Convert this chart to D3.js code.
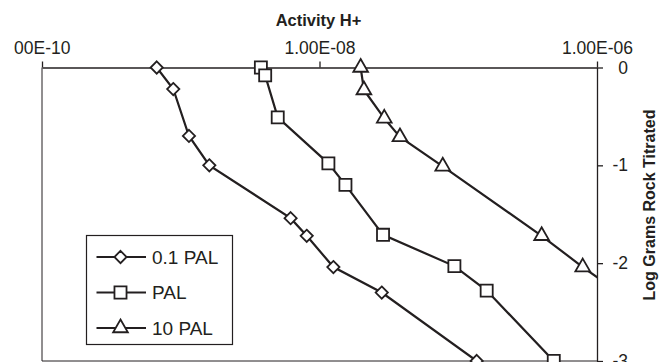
<!DOCTYPE html>
<html>
<head>
<meta charset="utf-8">
<script src="https://cdn.jsdelivr.net/npm/d3@7"></script>
<style>
  body { margin: 0; background: #fff; }
  svg { display: block; font-family: "Liberation Sans", Arial, sans-serif; }
</style>
</head>
<body>
<div id="chart"></div>
<script>
"use strict";
// data (activity of H+ vs log grams rock titrated)
var seriesNames = ["0.1 PAL", "PAL", "10 PAL"];
var activityLow = [6.71e-10, 8.83e-10, 1.146e-9, 1.607e-9, 6.19e-9, 8.09e-9, 1.259e-8, 2.81e-8, 1.358e-7];
var rockLow = [0, -0.22, -0.70, -1.00, -1.54, -1.72, -2.04, -2.30, -3.00];
var activityMid = [3.78e-9, 4.06e-9, 5.00e-9, 1.159e-8, 1.538e-8, 2.87e-8, 9.38e-8, 1.603e-7, 4.88e-7];
var rockMid = [0, -0.08, -0.51, -0.98, -1.20, -1.71, -2.03, -2.28, -3.00];
var activityHigh = [1.98e-8, 2.09e-8, 2.93e-8, 3.80e-8, 7.73e-8, 3.99e-7, 7.89e-7, 1.445e-6];
var rockHigh = [0, -0.23, -0.52, -0.71, -1.01, -1.72, -2.04, -2.30];
var xTicks = [1e-10, 1e-8, 1e-6];
var xTickLabels = ["1.00E-10", "1.00E-08", "1.00E-06"];
var yTicks = [0, -1, -2, -3];
var yTickLabels = ["0", "-1", "-2", "-3"];

(function() {
  var width = 662, height = 362;
  var ink = "#231f20";
  var left = 42, right = 597, top = 67.5, bottom = 361;
  var svg, x, y, line, series, symbols, plot, legend;

  svg = d3.select("#chart").append("svg")
    .attr("width", width)
    .attr("height", height);

  x = d3.scaleLog().domain([1e-10, 1e-6]).range([left, right]);
  y = d3.scaleLinear().domain([0, -3]).range([top, bottom]);

  series = [
    { name: seriesNames[0], xs: activityLow, ys: rockLow, shape: "diamond" },
    { name: seriesNames[1], xs: activityMid, ys: rockMid, shape: "square" },
    { name: seriesNames[2], xs: activityHigh, ys: rockHigh, shape: "triangle" }
  ];
  series.forEach(function(s) {
    s.points = s.xs.map(function(v, i) { return { a: v, r: s.ys[i] }; });
  });

  symbols = {
    diamond: d3.symbol().type(d3.symbolDiamond2).size(95),
    square: d3.symbol().type(d3.symbolSquare2).size(185),
    triangle: d3.symbol().type(d3.symbolTriangle2).size(155)
  };

  // clip areas
  svg.append("clipPath").attr("id", "plot-clip")
    .append("rect")
    .attr("x", left).attr("y", top)
    .attr("width", right - left).attr("height", bottom - top);
  // in the first tick's own coordinates (tick sits at x = left)
  svg.append("clipPath").attr("id", "label-clip")
    .append("rect")
    .attr("x", 13.5 - left).attr("y", -100)
    .attr("width", 200).attr("height", 200);

  // frame
  svg.append("path")
    .attr("d", "M" + right + "," + bottom + "H" + left + "V" + top)
    .attr("fill", "none")
    .attr("stroke", ink)
    .attr("stroke-width", 1);

  // top axis
  var topAxis = svg.append("g")
    .attr("transform", "translate(0," + top + ")")
    .call(d3.axisTop(x)
      .tickValues(xTicks)
      .tickFormat(function(d, i) { return xTickLabels[i]; })
      .tickSize(6)
      .tickPadding(8)
      .tickSizeOuter(0));
  topAxis.select(".domain").attr("stroke", ink).attr("stroke-width", 1.3);
  topAxis.selectAll(".tick line").attr("stroke", ink).attr("stroke-width", 1.3);
  topAxis.selectAll(".tick text")
    .attr("fill", ink)
    .style("font-size", "17.5px");
  // first label runs off the left edge, as in the picture
  topAxis.selectAll(".tick text").filter(function(d, i) { return i === 0; })
    .attr("text-anchor", "end")
    .attr("x", 28)
    .attr("clip-path", "url(#label-clip)");

  // right axis
  var rightAxis = svg.append("g")
    .attr("transform", "translate(" + right + ",0)")
    .call(d3.axisRight(y)
      .tickValues(yTicks)
      .tickFormat(function(d, i) { return yTickLabels[i]; })
      .tickSize(6)
      .tickSizeOuter(0));
  rightAxis.select(".domain").attr("stroke", ink).attr("stroke-width", 1.3);
  rightAxis.selectAll(".tick line").attr("stroke", ink).attr("stroke-width", 1.3);
  rightAxis.selectAll(".tick text")
    .attr("fill", ink)
    .attr("text-anchor", "end")
    .attr("x", 31)
    .style("font-size", "17.5px");

  // axis titles
  svg.append("text")
    .attr("x", 318.5).attr("y", 26)
    .attr("text-anchor", "middle")
    .attr("fill", ink)
    .style("font-size", "16.5px")
    .style("font-weight", "bold")
    .text("Activity H+");

  svg.append("text")
    .attr("transform", "translate(655,205) rotate(-90)")
    .attr("text-anchor", "middle")
    .attr("fill", ink)
    .style("font-size", "16px")
    .style("font-weight", "bold")
    .text("Log Grams Rock Titrated");

  // series
  line = d3.line()
    .x(function(d) { return x(d.a); })
    .y(function(d) { return y(d.r); });

  plot = svg.append("g");
  plot.selectAll(".series-line")
    .data(series)
    .enter()
    .append("path")
    .attr("class", "series-line")
    .attr("clip-path", "url(#plot-clip)")
    .attr("d", function(d) { return line(d.points); })
    .attr("fill", "none")
    .attr("stroke", ink)
    .attr("stroke-width", 2.2);

  series.forEach(function(s) {
    plot.selectAll(".mark-" + s.shape)
      .data(s.points.filter(function(p) { return p.a <= 1e-6 && p.r >= -3; }))
      .enter()
      .append("path")
      .attr("class", "mark-" + s.shape)
      .attr("transform", function(p) { return "translate(" + x(p.a) + "," + y(p.r) + ")"; })
      .attr("d", symbols[s.shape])
      .attr("fill", "#fff")
      .attr("stroke", ink)
      .attr("stroke-width", 1.8);
  });

  // legend
  legend = svg.append("g").attr("transform", "translate(86.5,235.5)");
  legend.append("rect")
    .attr("width", 146).attr("height", 109)
    .attr("fill", "#fff")
    .attr("stroke", ink)
    .attr("stroke-width", 1.2);

  var rows = legend.selectAll(".legend-row")
    .data(series)
    .enter()
    .append("g")
    .attr("class", "legend-row")
    .attr("transform", function(d, i) { return "translate(0," + (21.5 + i * 35.5) + ")"; });

  rows.append("line")
    .attr("x1", 10).attr("x2", 59.5)
    .attr("stroke", ink)
    .attr("stroke-width", 2.2);

  rows.append("path")
    .attr("transform", "translate(34,0)")
    .attr("d", function(d) { return symbols[d.shape](); })
    .attr("fill", "#fff")
    .attr("stroke", ink)
    .attr("stroke-width", 1.8);

  rows.append("text")
    .attr("x", 65.5)
    .attr("dy", "0.36em")
    .attr("fill", ink)
    .style("font-size", "19px")
    .text(function(d) { return d.name; });
})();
</script>
</body>
</html>
